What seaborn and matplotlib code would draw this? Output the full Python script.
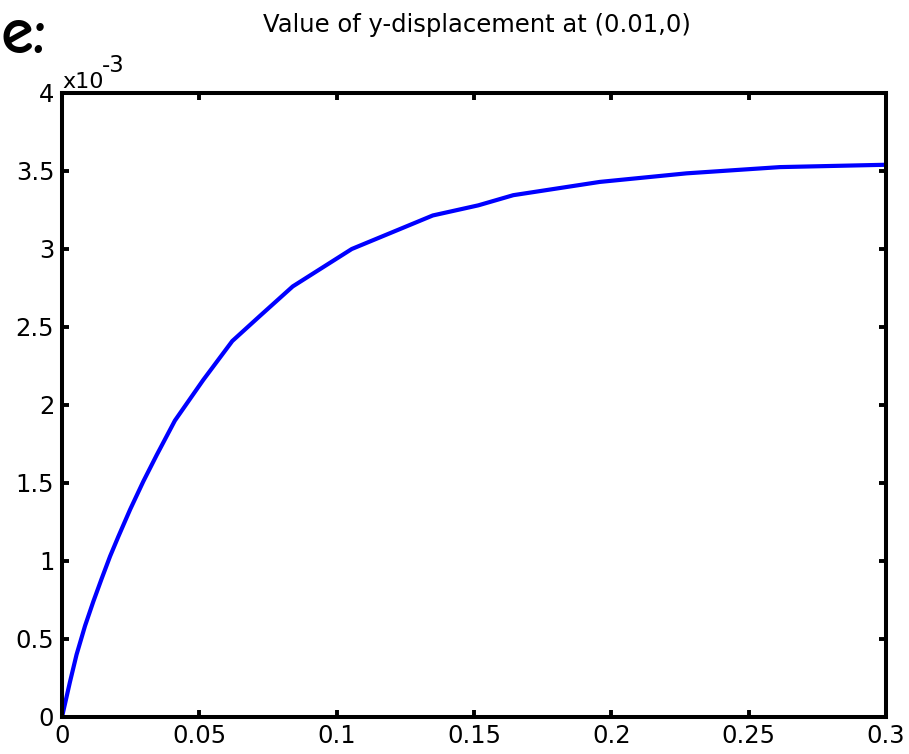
import matplotlib
matplotlib.use("Agg")
import matplotlib.pyplot as plt
from matplotlib.ticker import FuncFormatter, MultipleLocator
import seaborn as sns
import pandas as pd

# ---- data ----
time = [0, 0.0029, 0.0053, 0.0084, 0.0114, 0.0144, 0.0175, 0.0205, 0.0248,
        0.0296, 0.0345, 0.0411, 0.0514, 0.062, 0.072, 0.084, 0.1055, 0.1206,
        0.135, 0.1516, 0.1643, 0.1958, 0.2274, 0.2614, 0.3]
y_disp_e3 = [0, 0.225, 0.40, 0.585, 0.74, 0.885, 1.03, 1.156, 1.33,
             1.51, 1.68, 1.90, 2.16, 2.41, 2.57, 2.76, 3.00, 3.11,
             3.215, 3.28, 3.345, 3.43, 3.485, 3.525, 3.54]
scale = 1e-3
title = "Value of y-displacement at (0.01,0)"
panel_label = "e:"

df = pd.DataFrame({"t": time, "uy": [v * scale for v in y_disp_e3]})

sns.set_theme(style="ticks")
plt.rcParams["font.family"] = ["DejaVu Sans"]

fig = plt.figure(figsize=(9.09, 7.54), dpi=100)
ax = fig.add_axes([62 / 909, 1 - 717 / 754, (886 - 62) / 909, (717 - 93) / 754])

sns.lineplot(data=df, x="t", y="uy", ax=ax, color="#0000ff", linewidth=3.0,
             estimator=None, sort=False)

ax.set_xlim(0, 0.3)
ax.set_ylim(0, 4 * scale)
ax.xaxis.set_major_locator(MultipleLocator(0.05))
ax.yaxis.set_major_locator(MultipleLocator(0.5 * scale))
ax.xaxis.set_major_formatter(FuncFormatter(lambda v, p: f"{round(v, 4):g}"))
ax.yaxis.set_major_formatter(FuncFormatter(lambda v, p: f"{round(v / scale, 4):g}"))
ax.set_xlabel("")
ax.set_ylabel("")

for s in ax.spines.values():
    s.set_visible(True)
    s.set_linewidth(2.9)
    s.set_color("black")
ax.tick_params(axis="both", which="major", direction="in", length=5, width=2.8,
               color="black", labelsize=17.5, labelcolor="black",
               top=True, right=True)
ax.tick_params(axis="x", pad=5.0)
ax.tick_params(axis="y", pad=5.6)

fig.text(477 / 909, 1 - 32 / 754, title, ha="center", va="baseline",
         fontsize=17.5, color="black")
fig.text(0.001, 1 - 53 / 754, panel_label, ha="left", va="baseline",
         fontsize=48, fontweight="bold", family=["Comic Neue", "DejaVu Sans"],
         color="black")
fig.text(62 / 909, 1 - 88 / 754, "x10", ha="left", va="baseline",
         fontsize=16, color="black")
fig.text(102 / 909, 1 - 72 / 754, "-3", ha="left", va="baseline",
         fontsize=16.5, color="black")

fig.savefig("out.png", dpi=100, facecolor="white")
